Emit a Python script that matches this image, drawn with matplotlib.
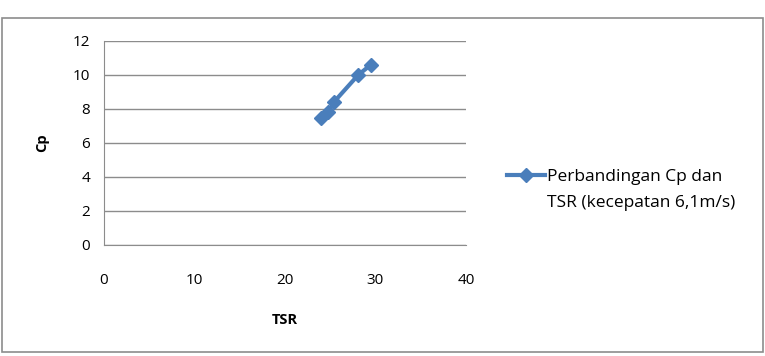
import matplotlib.pyplot as plt
from matplotlib.patches import Rectangle

plt.rcParams["font.family"] = ["Open Sans", "DejaVu Sans"]

tsr = [24.0, 24.8, 25.4, 28.1, 29.5]
cp = [7.45, 7.8, 8.4, 10.0, 10.6]
label_lines = ["Perbandingan Cp dan", "TSR (kecepatan 6,1m/s)"]
xticks = [0, 10, 20, 30, 40]
yticks = [0, 2, 4, 6, 8, 10, 12]

fig = plt.figure(figsize=(7.65, 3.56), dpi=100)
fig.patches.append(Rectangle((0.003, 0.012), 0.994, 0.938, transform=fig.transFigure,
                             fill=False, ec="#8c8c8c", lw=1.2))
ax = fig.add_axes([0.136, 0.312, 0.473, 0.573])

line_col = "#4a7ebb"
ax.plot(tsr, cp, "-D", color=line_col, lw=3, ms=7, label=label_lines[0], zorder=3)

ax.set_xlim(0, 40)
ax.set_ylim(0, 12)
ax.set_xticks(xticks)
ax.set_yticks(yticks)
ax.grid(axis="y", color="#8c8c8c", lw=1)
ax.set_axisbelow(True)
for s in ("top", "right"):
    ax.spines[s].set_visible(False)
for s in ("left", "bottom"):
    ax.spines[s].set_color("#8c8c8c")
ax.tick_params(length=0, labelsize=11, pad=10)
ax.tick_params(axis="x", pad=20)
ax.set_xlabel("TSR", fontweight="bold", fontsize=10.5, labelpad=18)
ax.set_ylabel("Cp", fontweight="bold", fontsize=10.5, labelpad=17)

# Excel-style legend: marker sits on the first text line, label wraps below it
leg = ax.legend(loc="center left", bbox_to_anchor=(1.07, 0.335), frameon=False,
                fontsize=12.5, handlelength=2.2, handletextpad=0.1)
fig.canvas.draw()
bb = leg.get_texts()[0].get_window_extent().transformed(fig.transFigure.inverted())
fig.text(bb.x0, bb.y0 - 0.073, label_lines[1], fontsize=12.5, ha="left", va="bottom")

fig.savefig("out.png", dpi=100)
